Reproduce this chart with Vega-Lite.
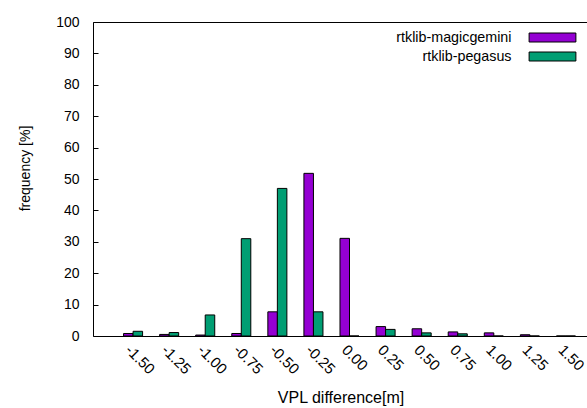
{
  "$schema": "https://vega.github.io/schema/vega-lite/v6.json",
  "width": 495,
  "height": 314,
  "autosize": {"type": "none"},
  "padding": {"left": 93, "top": 22, "right": 0, "bottom": 72},
  "background": "white",
  "config": {
    "view": {"stroke": "black", "strokeWidth": 1},
    "font": "Liberation Sans",
    "axis": {"labelColor": "black", "titleColor": "black", "labelFontSize": 14, "titleFontSize": 14, "titleFontWeight": "normal", "grid": false, "domain": false}
  },
  "data": {
    "values": [
      {"bin": "-1.50", "series": "rtklib-magicgemini", "freq": 0.8},
      {"bin": "-1.50", "series": "rtklib-pegasus", "freq": 1.5},
      {"bin": "-1.25", "series": "rtklib-magicgemini", "freq": 0.5},
      {"bin": "-1.25", "series": "rtklib-pegasus", "freq": 1.1},
      {"bin": "-1.00", "series": "rtklib-magicgemini", "freq": 0.3},
      {"bin": "-1.00", "series": "rtklib-pegasus", "freq": 6.7},
      {"bin": "-0.75", "series": "rtklib-magicgemini", "freq": 0.8},
      {"bin": "-0.75", "series": "rtklib-pegasus", "freq": 31.0},
      {"bin": "-0.50", "series": "rtklib-magicgemini", "freq": 7.7},
      {"bin": "-0.50", "series": "rtklib-pegasus", "freq": 47.0},
      {"bin": "-0.25", "series": "rtklib-magicgemini", "freq": 51.8},
      {"bin": "-0.25", "series": "rtklib-pegasus", "freq": 7.7},
      {"bin": "0.00", "series": "rtklib-magicgemini", "freq": 31.1},
      {"bin": "0.00", "series": "rtklib-pegasus", "freq": 0},
      {"bin": "0.25", "series": "rtklib-magicgemini", "freq": 3.0},
      {"bin": "0.25", "series": "rtklib-pegasus", "freq": 2.1},
      {"bin": "0.50", "series": "rtklib-magicgemini", "freq": 2.3},
      {"bin": "0.50", "series": "rtklib-pegasus", "freq": 1.0},
      {"bin": "0.75", "series": "rtklib-magicgemini", "freq": 1.3},
      {"bin": "0.75", "series": "rtklib-pegasus", "freq": 0.7},
      {"bin": "1.00", "series": "rtklib-magicgemini", "freq": 1.0},
      {"bin": "1.00", "series": "rtklib-pegasus", "freq": 0},
      {"bin": "1.25", "series": "rtklib-magicgemini", "freq": 0.4},
      {"bin": "1.25", "series": "rtklib-pegasus", "freq": 0},
      {"bin": "1.50", "series": "rtklib-magicgemini", "freq": 0},
      {"bin": "1.50", "series": "rtklib-pegasus", "freq": 0}
    ]
  },
  "mark": {"type": "bar", "stroke": "black", "strokeWidth": 1},
  "encoding": {
    "x": {
      "field": "bin",
      "type": "ordinal",
      "sort": ["-1.50", "-1.25", "-1.00", "-0.75", "-0.50", "-0.25", "0.00", "0.25", "0.50", "0.75", "1.00", "1.25", "1.50"],
      "scale": {"paddingInner": 0, "paddingOuter": 0.361, "align": 0.846},
      "axis": {"title": "VPL difference[m]", "labelAngle": 45, "labelFontSize": 15, "ticks": false, "labelPadding": 6, "titleFontSize": 16, "titleY": 61, "titleBaseline": "middle"}
    },
    "xOffset": {
      "field": "series",
      "sort": ["rtklib-magicgemini", "rtklib-pegasus"],
      "scale": {"paddingInner": 0, "paddingOuter": 0.895}
    },
    "y": {
      "field": "freq",
      "type": "quantitative",
      "scale": {"domain": [0, 100], "nice": false},
      "axis": {"title": "frequency [%]", "values": [0, 10, 20, 30, 40, 50, 60, 70, 80, 90, 100], "tickSize": -5, "tickColor": "black", "labelPadding": 19, "titleX": -68, "titleY": 146, "titleBaseline": "middle", "titleAlign": "center"}
    },
    "color": {
      "field": "series",
      "type": "nominal",
      "scale": {"domain": ["rtklib-magicgemini", "rtklib-pegasus"], "range": ["#9400D3", "#009E73"]},
      "legend": {
        "title": null,
        "orient": "none",
        "legendX": 450,
        "legendY": 6,
        "padding": 0,
        "symbolType": "M-2.6,-0.5H2.6V0.5H-2.6Z",
        "symbolSize": 324,
        "symbolStrokeColor": "black",
        "symbolStrokeWidth": 1,
        "symbolOpacity": 1,
        "labelAlign": "right",
        "labelOffset": -50.5,
        "labelFontSize": 14.3,
        "labelColor": "black",
        "rowPadding": 2
      }
    }
  }
}
